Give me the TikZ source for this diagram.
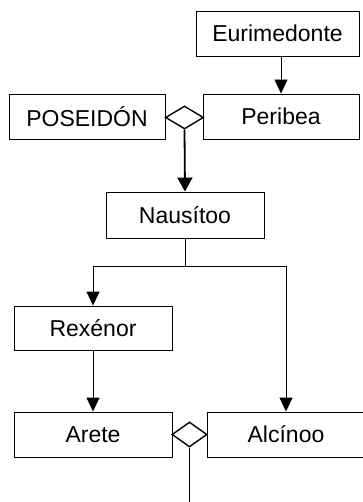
\documentclass[tikz,border=0pt]{standalone}
\usepackage{fontspec}
\setmainfont{Liberation Sans}
\usetikzlibrary{arrows.meta,shapes.geometric}
\begin{document}
\begin{tikzpicture}[x=1pt,y=-1pt,
  person/.style={draw=black,line width=0.9pt,rectangle,inner sep=0pt,
    minimum height=45pt,font=\fontsize{23}{27}\selectfont},
  union/.style={draw=black,line width=1.4pt,diamond,inner sep=0pt},
  link/.style={line width=0.9pt,-{Triangle[length=14pt,width=13pt]}},
  strong/.style={line width=1.8pt,-{Triangle[length=14pt,width=15pt]}},
  plain/.style={line width=0.9pt},
  strongplain/.style={line width=1.8pt}]
\useasboundingbox (0,0) rectangle (363,502);
\clip (0,0) rectangle (363,502);

% generation of Poseidón
\node[person,minimum width=163pt] (eurimedonte) at (277.5,33.5) {Eurimedonte};
\node[person,minimum width=156pt] (poseidon) at (87,116.5) {POSEIDÓN};
\node[person,minimum width=156pt] (peribea) at (281,116.5) {Peribea};
\node[union,minimum width=38pt,minimum height=23pt] (u1) at (184.5,117.5) {};

% Nausítoo and his children
\node[person,minimum width=158pt,minimum height=46pt] (nausitoo) at (185,215) {Nausítoo};
\node[person,minimum width=158pt,minimum height=44pt] (rexenor) at (93,328) {Rexénor};
\node[person,minimum width=158pt] (arete) at (93,434.5) {Arete};
\node[person,minimum width=158pt] (alcinoo) at (286,434.5) {Alcínoo};
\node[union,minimum width=35pt,minimum height=25pt] (u2) at (189.5,434.5) {};

\coordinate (split) at (185,266);
\coordinate (descent) at (189.5,510);

% connectors
\draw[link] (peribea.north |- eurimedonte.south) -- (peribea.north);
\draw[strong] (u1.south) -- (nausitoo.north);
\draw[plain] (nausitoo.south) -- (split);
\draw[link] (split) -| (rexenor.north);
\draw[link] (split) -| (alcinoo.north);
\draw[link] (rexenor.south) -- (arete.north);
\draw[strongplain] (u2.south) -- (descent);
\end{tikzpicture}
\end{document}
